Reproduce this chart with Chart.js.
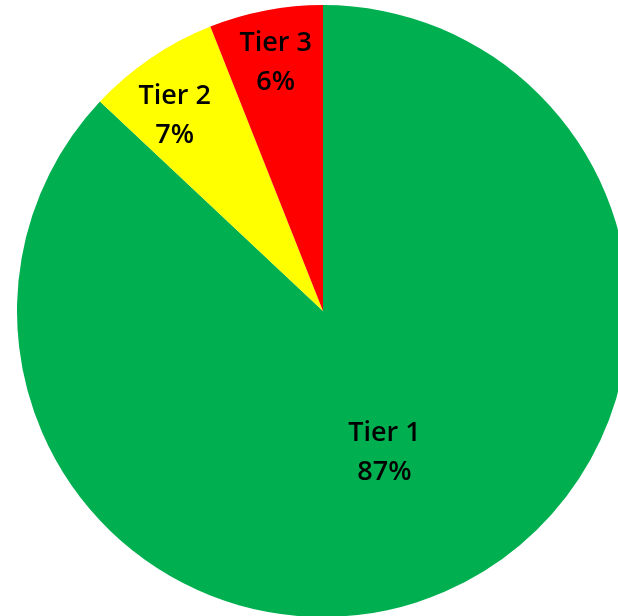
<!DOCTYPE html>
<html>
<head>
<meta charset="utf-8">
<script src="https://cdn.jsdelivr.net/npm/chart.js@4"></script>
<style>
  html, body { margin: 0; padding: 0; background: #ffffff; overflow: hidden; width: 618px; height: 616px; }
  #wrap { position: absolute; left: 17px; top: 5px; width: 612px; height: 612px; }
</style>
</head>
<body>
<div id="wrap"><canvas id="pie" width="612" height="612"></canvas></div>
<script>
const categories = ['Tier 1', 'Tier 2', 'Tier 3'];
const shares = [87, 7, 6];
const sliceColors = ['#00B050', '#FFFF00', '#FF0000'];

// Two-line labels (name + percentage) placed inside each slice
const sliceLabels = {
  id: 'sliceLabels',
  afterDatasetsDraw(chart, args, opts) {
    const { ctx } = chart;
    const meta = chart.getDatasetMeta(0);
    ctx.save();
    ctx.fillStyle = '#000000';
    ctx.font = opts.font;
    ctx.textAlign = 'center';
    ctx.textBaseline = 'middle';
    meta.data.forEach((arc, i) => {
      const p = arc.getProps(['x', 'y', 'startAngle', 'endAngle', 'outerRadius'], true);
      const mid = (p.startAngle + p.endAngle) / 2 + (opts.angleShift[i] * Math.PI / 180);
      const r = p.outerRadius * opts.radii[i];
      const cx = p.x + Math.cos(mid) * r;
      const cy = p.y + Math.sin(mid) * r;
      ctx.fillText(categories[i], cx, cy - opts.lineGap / 2);
      ctx.fillText(shares[i] + '%', cx, cy + opts.lineGap / 2);
    });
    ctx.restore();
  }
};

new Chart(document.getElementById('pie'), {
  type: 'pie',
  data: {
    labels: categories,
    datasets: [{
      data: shares,
      backgroundColor: sliceColors,
      borderWidth: 0
    }]
  },
  options: {
    responsive: false,
    animation: false,
    layout: { padding: 0 },
    plugins: {
      legend: { display: false },
      tooltip: { enabled: false },
      sliceLabels: {
        font: '600 27px "Open Sans", sans-serif',
        radii: [0.505, 0.80, 0.825],
        angleShift: [0, -3.1, 0],
        lineGap: 39
      }
    }
  },
  plugins: [sliceLabels]
});
</script>
</body>
</html>
